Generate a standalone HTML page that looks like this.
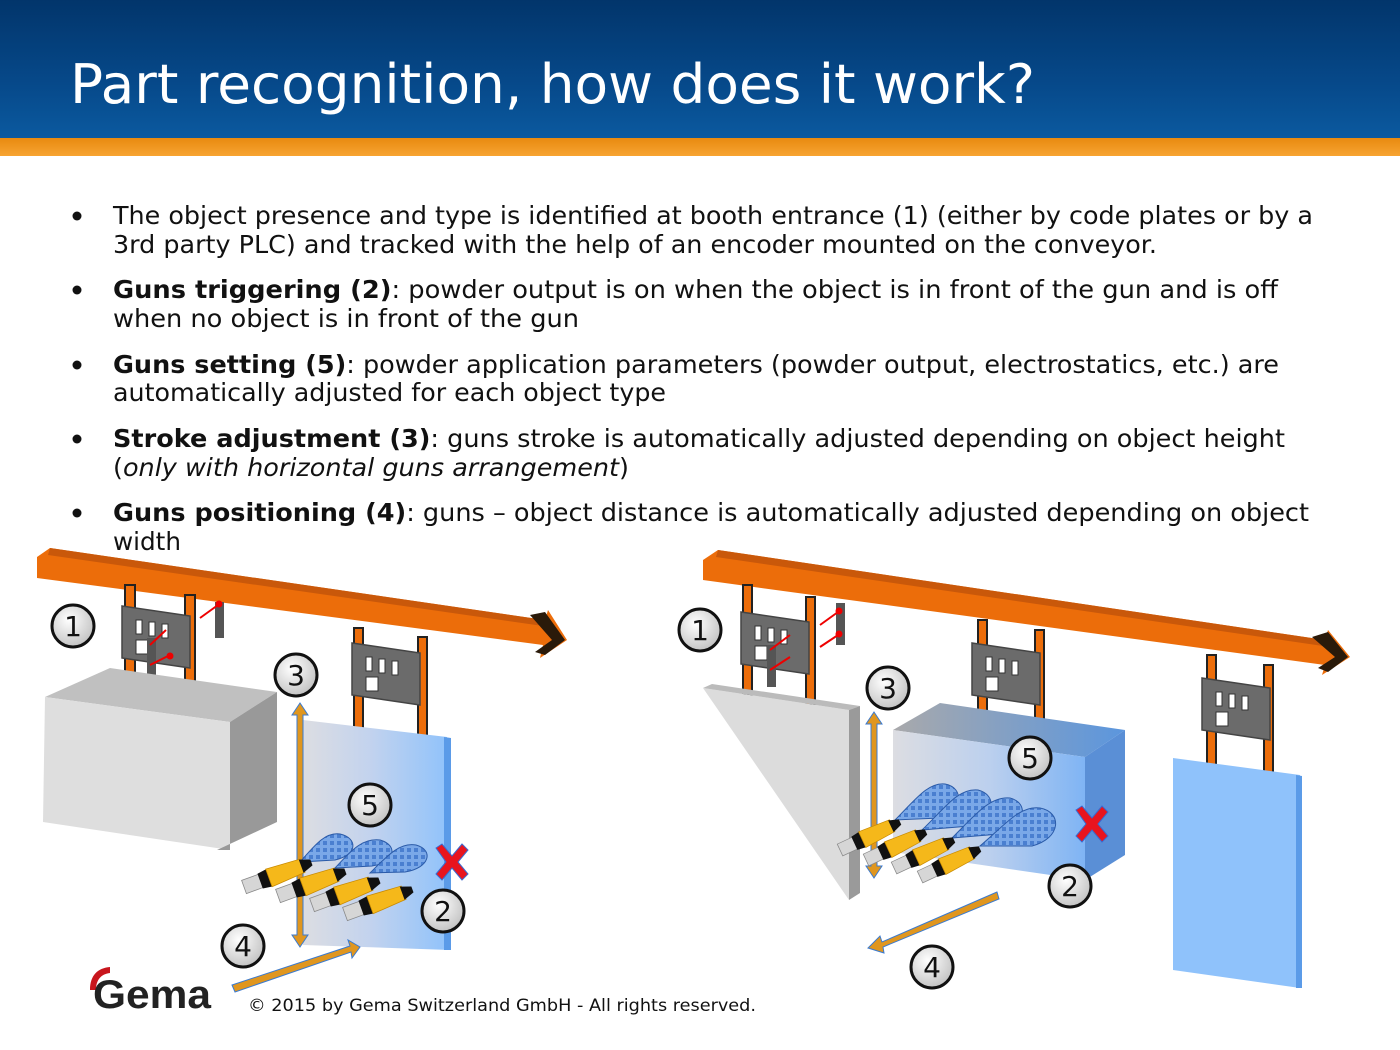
<!DOCTYPE html>
<html><head><meta charset="utf-8"><style>
html,body{margin:0;padding:0;background:#fff;}
svg{display:block;}
</style></head><body>
<svg width="1400" height="1050" viewBox="0 0 1400 1050" xmlns="http://www.w3.org/2000/svg" font-family="'DejaVu Sans','Liberation Sans',sans-serif">
<defs>
<linearGradient id="hdr" x1="0" y1="0" x2="0" y2="1">
<stop offset="0" stop-color="#02356b"/><stop offset="0.6" stop-color="#06498a"/><stop offset="1" stop-color="#0b5aa0"/>
</linearGradient>
<linearGradient id="org" x1="0" y1="0" x2="0" y2="1">
<stop offset="0" stop-color="#e88a10"/><stop offset="1" stop-color="#f7a432"/>
</linearGradient>
<linearGradient id="pan" x1="0" y1="0" x2="1" y2="0">
<stop offset="0" stop-color="#dcdde2"/><stop offset="0.45" stop-color="#c3d3ee"/><stop offset="1" stop-color="#8fc2fb"/>
</linearGradient>
<linearGradient id="boxf" x1="0" y1="0" x2="1" y2="0">
<stop offset="0" stop-color="#dcdde2"/><stop offset="0.5" stop-color="#bcd0ee"/><stop offset="1" stop-color="#7fb4f4"/>
</linearGradient>
<linearGradient id="boxt" x1="0" y1="0" x2="1" y2="0">
<stop offset="0" stop-color="#a9a9ab"/><stop offset="1" stop-color="#5b96de"/>
</linearGradient>
<radialGradient id="circ" cx="0.4" cy="0.35" r="0.7">
<stop offset="0" stop-color="#ffffff"/><stop offset="1" stop-color="#c0c0c0"/>
</radialGradient>
<pattern id="dots" width="7" height="7" patternUnits="userSpaceOnUse">
<rect width="7" height="7" fill="#7aa8e8"/><rect x="1" y="1" width="4" height="4" fill="#4a7fd0"/>
</pattern>
<g id="gun">
<rect x="0" y="-9" width="24" height="18" fill="#d6d6d6" stroke="#888" stroke-width="1"/>
<path d="M22,-10 L36,-12 L36,12 L22,10 Z" fill="#111"/>
<path d="M34,-12 L80,-9 L80,9 L34,12 Z" fill="#f5b81a" stroke="#c98a00" stroke-width="1"/>
<path d="M78,-9 L92,-4 L92,4 L78,9 Z" fill="#111"/>
</g>
<g id="plate">
<path d="M0,0 L68,10 L68,62 L0,52 Z" fill="#6b6b6b" stroke="#444" stroke-width="1.5"/>
<rect x="14" y="14" width="6" height="14" fill="#fff" stroke="#333"/>
<rect x="27" y="16" width="6" height="14" fill="#fff" stroke="#333"/>
<rect x="40" y="18" width="6" height="14" fill="#fff" stroke="#333"/>
<rect x="14" y="34" width="12" height="14" fill="#fff" stroke="#333"/>
</g>
<g id="cx">
<circle r="21" fill="url(#circ)" stroke="#111" stroke-width="3"/>
</g>
</defs>

<rect x="0" y="0" width="1400" height="140" fill="url(#hdr)"/>
<rect x="0" y="138" width="1400" height="18" fill="url(#org)"/>
<text x="70" y="103" font-size="54" fill="#fff" textLength="965" lengthAdjust="spacingAndGlyphs">Part recognition, how does it work?</text>

<g font-size="25" fill="#111">
<circle cx="77" cy="216" r="4.5"/><circle cx="77" cy="290" r="4.5"/><circle cx="77" cy="365" r="4.5"/><circle cx="77" cy="439" r="4.5"/><circle cx="77" cy="513" r="4.5"/>
<text x="113" y="224" textLength="1200" lengthAdjust="spacingAndGlyphs">The object presence and type is identified at booth entrance (1) (either by code plates or by a</text>
<text x="113" y="253" textLength="1044" lengthAdjust="spacingAndGlyphs">3rd party PLC) and tracked with the help of an encoder mounted on the conveyor.</text>
<text x="113" y="298" textLength="1165" lengthAdjust="spacingAndGlyphs"><tspan font-weight="bold">Guns triggering (2)</tspan>: powder output is on when the object is in front of the gun and is off</text>
<text x="113" y="327" textLength="466" lengthAdjust="spacingAndGlyphs">when no object is in front of the gun</text>
<text x="113" y="373" textLength="1166" lengthAdjust="spacingAndGlyphs"><tspan font-weight="bold">Guns setting (5)</tspan>: powder application parameters (powder output, electrostatics, etc.) are</text>
<text x="113" y="401" textLength="553" lengthAdjust="spacingAndGlyphs">automatically adjusted for each object type</text>
<text x="113" y="447" textLength="1172" lengthAdjust="spacingAndGlyphs"><tspan font-weight="bold">Stroke adjustment (3)</tspan>: guns stroke is automatically adjusted depending on object height</text>
<text x="113" y="476" textLength="516" lengthAdjust="spacingAndGlyphs">(<tspan font-style="italic">only with horizontal guns arrangement</tspan>)</text>
<text x="113" y="521" textLength="1196" lengthAdjust="spacingAndGlyphs"><tspan font-weight="bold">Guns positioning (4)</tspan>: guns – object distance is automatically adjusted depending on object</text>
<text x="113" y="550" textLength="68" lengthAdjust="spacingAndGlyphs">width</text>
</g>

<!-- LEFT DIAGRAM -->
<path d="M50,548 L545,620 L548,610 L567,640 L540,658 L543,645 L37,578 L37,557 Z" fill="#ec6d0a"/>
<path d="M50,548 L545,620 L543,626 L48,555 Z" fill="#c9580a"/>
<path d="M530,615 L545,612 L565,640 L545,655 L535,652 L552,640 Z" fill="#2a1a0a"/>
<rect x="125" y="585" width="10" height="110" fill="#ec6d0a" stroke="#222" stroke-width="2"/>
<rect x="185" y="595" width="10" height="108" fill="#ec6d0a" stroke="#222" stroke-width="2"/>
<use href="#plate" x="122" y="606"/>
<rect x="147" y="638" width="9" height="42" fill="#555"/>
<rect x="215" y="602" width="9" height="36" fill="#555"/>
<line x1="200" y1="618" x2="218" y2="605" stroke="#e00" stroke-width="2"/><circle cx="219" cy="604" r="3.5" fill="#e00"/>
<line x1="150" y1="645" x2="166" y2="630" stroke="#e00" stroke-width="2"/>
<line x1="150" y1="665" x2="168" y2="656" stroke="#e00" stroke-width="2"/><circle cx="170" cy="656" r="3.5" fill="#e00"/>
<path d="M45,697 L110,668 L277,692 L230,722 Z" fill="#c0c0c0"/>
<path d="M45,697 L230,722 L230,850 L43,822 Z" fill="#dedede"/>
<path d="M230,722 L277,692 L277,822 L217,850 L230,850 Z" fill="#999"/>
<rect x="354" y="628" width="9" height="100" fill="#ec6d0a" stroke="#222" stroke-width="2"/>
<rect x="418" y="637" width="9" height="100" fill="#ec6d0a" stroke="#222" stroke-width="2"/>
<use href="#plate" x="352" y="643"/>
<path d="M303,720 L447,737 L450,950 L303,945 Z" fill="url(#pan)"/>
<path d="M444,737 L451,738 L451,950 L444,950 Z" fill="#5b9be8"/>
<path d="M300,703 L308,715 L303,715 L303,935 L308,935 L300,947 L292,935 L297,935 L297,715 L292,715 Z" fill="#e0961e" stroke="#3a7ad0" stroke-width="1"/>
<path d="M232,985 L350,946 L348,940 L360,947 L352,958 L351,952 L235,992 Z" fill="#e0961e" stroke="#3a7ad0" stroke-width="1"/>
<path d="M300,862 C315,845 325,832 340,834 C358,838 358,855 335,860 Z" fill="url(#dots)" stroke="#2a5aa8" stroke-width="1"/>
<path d="M335,868 C352,850 362,838 380,840 C398,845 396,862 372,866 Z" fill="url(#dots)" stroke="#2a5aa8" stroke-width="1"/>
<path d="M370,873 C388,855 400,842 416,845 C434,850 430,868 405,872 Z" fill="url(#dots)" stroke="#2a5aa8" stroke-width="1"/>
<use href="#gun" transform="translate(244,887) rotate(-20) scale(0.78)"/>
<use href="#gun" transform="translate(278,896) rotate(-20) scale(0.78)"/>
<use href="#gun" transform="translate(312,905) rotate(-20) scale(0.78)"/>
<use href="#gun" transform="translate(345,914) rotate(-20) scale(0.78)"/>
<path d="M436,848 L442,844 L452,856 L462,844 L468,850 L458,862 L468,874 L462,880 L452,868 L442,880 L436,874 L446,862 Z" fill="#e8141e" stroke="#3a6ad0" stroke-width="1"/>
<g font-size="28" text-anchor="middle" fill="#111">
<use href="#cx" x="73" y="626"/><text x="73" y="636">1</text>
<use href="#cx" x="296" y="675"/><text x="296" y="685">3</text>
<use href="#cx" x="370" y="805"/><text x="370" y="815">5</text>
<use href="#cx" x="443" y="911"/><text x="443" y="921">2</text>
<use href="#cx" x="243" y="946"/><text x="243" y="956">4</text>
</g>

<!-- RIGHT DIAGRAM -->
<path d="M718,550 L1325,640 L1328,630 L1350,657 L1322,675 L1325,665 L703,580 L703,560 Z" fill="#ec6d0a"/>
<path d="M718,550 L1325,640 L1323,646 L716,557 Z" fill="#c9580a"/>
<path d="M1312,637 L1328,632 L1348,657 L1328,672 L1318,668 L1335,657 Z" fill="#2a1a0a"/>
<rect x="743" y="585" width="9" height="110" fill="#ec6d0a" stroke="#222" stroke-width="2"/>
<rect x="806" y="597" width="9" height="108" fill="#ec6d0a" stroke="#222" stroke-width="2"/>
<use href="#plate" x="741" y="612"/>
<rect x="767" y="645" width="9" height="42" fill="#555"/>
<rect x="836" y="603" width="9" height="42" fill="#555"/>
<line x1="820" y1="625" x2="838" y2="612" stroke="#e00" stroke-width="2"/><circle cx="839" cy="611" r="3.5" fill="#e00"/>
<line x1="820" y1="647" x2="838" y2="635" stroke="#e00" stroke-width="2"/><circle cx="839" cy="634" r="3.5" fill="#e00"/>
<line x1="770" y1="650" x2="790" y2="635" stroke="#e00" stroke-width="2"/>
<line x1="770" y1="670" x2="790" y2="657" stroke="#e00" stroke-width="2"/>
<path d="M703,688 L849,710 L849,900 Z" fill="#dcdcdc"/>
<path d="M703,688 L712,684 L860,706 L849,710 Z" fill="#bbb"/>
<path d="M849,710 L860,706 L860,893 L849,900 Z" fill="#9a9a9a"/>
<rect x="978" y="620" width="9" height="100" fill="#ec6d0a" stroke="#222" stroke-width="2"/>
<rect x="1035" y="630" width="9" height="100" fill="#ec6d0a" stroke="#222" stroke-width="2"/>
<path d="M893,730 L940,703 L1125,730 L1085,757 Z" fill="url(#boxt)"/>
<path d="M893,730 L1085,757 L1085,880 L893,852 Z" fill="url(#boxf)"/>
<path d="M1085,757 L1125,730 L1125,855 L1085,880 Z" fill="#5a8fd6"/>
<use href="#plate" x="972" y="643"/>
<rect x="1207" y="655" width="9" height="110" fill="#ec6d0a" stroke="#222" stroke-width="2"/>
<rect x="1264" y="665" width="9" height="110" fill="#ec6d0a" stroke="#222" stroke-width="2"/>
<use href="#plate" x="1202" y="678"/>
<path d="M1173,758 L1300,775 L1300,988 L1173,970 Z" fill="#8fc2fb"/>
<path d="M1296,775 L1302,776 L1302,988 L1296,988 Z" fill="#5b9be8"/>
<path d="M874,712 L882,724 L877,724 L877,866 L882,866 L874,878 L866,866 L871,866 L871,724 L866,724 Z" fill="#e0961e" stroke="#3a7ad0" stroke-width="1"/>
<path d="M997,892 L882,942 L880,936 L868,948 L884,953 L883,947 L999,899 Z" fill="#e0961e" stroke="#3a7ad0" stroke-width="1"/>
<path d="M895,820 C915,800 928,782 945,784 C965,788 962,810 940,818 Z" fill="url(#dots)" stroke="#2a5aa8" stroke-width="1"/>
<path d="M922,830 C945,808 958,788 978,790 C998,795 995,818 970,826 Z" fill="url(#dots)" stroke="#2a5aa8" stroke-width="1"/>
<path d="M952,838 C975,815 990,796 1010,798 C1030,803 1025,826 1000,834 Z" fill="url(#dots)" stroke="#2a5aa8" stroke-width="1"/>
<path d="M980,846 C1005,825 1020,805 1040,808 C1062,812 1062,838 1032,846 Z" fill="url(#dots)" stroke="#2a5aa8" stroke-width="1"/>
<use href="#gun" transform="translate(840,850) rotate(-25) scale(0.72)"/>
<use href="#gun" transform="translate(866,860) rotate(-25) scale(0.72)"/>
<use href="#gun" transform="translate(894,868) rotate(-25) scale(0.72)"/>
<use href="#gun" transform="translate(920,877) rotate(-25) scale(0.72)"/>
<path d="M1076,810 L1082,806 L1092,818 L1102,806 L1108,812 L1098,824 L1108,836 L1102,842 L1092,830 L1082,842 L1076,836 L1086,824 Z" fill="#e8141e" stroke="#3a6ad0" stroke-width="1"/>
<g font-size="28" text-anchor="middle" fill="#111">
<use href="#cx" x="700" y="630"/><text x="700" y="640">1</text>
<use href="#cx" x="888" y="688"/><text x="888" y="698">3</text>
<use href="#cx" x="1030" y="758"/><text x="1030" y="768">5</text>
<use href="#cx" x="1070" y="886"/><text x="1070" y="896">2</text>
<use href="#cx" x="932" y="967"/><text x="932" y="977">4</text>
</g>

<path d="M90,990 C90,975 98,968 110,967 L110,973 C101,974 96,980 96,990 Z" fill="#c8161d"/>
<text x="93" y="1008" font-family="'Liberation Sans',sans-serif" font-weight="bold" font-size="40" fill="#222" textLength="118" lengthAdjust="spacingAndGlyphs">Gema</text>
<text x="248" y="1011" font-size="17" fill="#111" textLength="508" lengthAdjust="spacingAndGlyphs">© 2015 by Gema Switzerland GmbH - All rights reserved.</text>
</svg>
</body></html>
